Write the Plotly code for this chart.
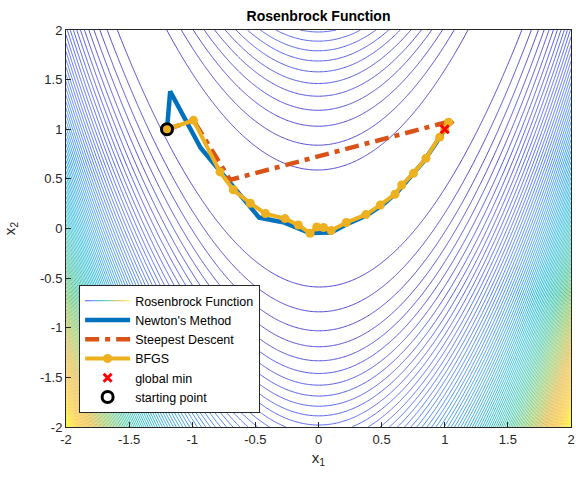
import numpy as np
import plotly.graph_objects as go

# Grid for the Rosenbrock surface f(x1,x2) = 100(x2 - x1^2)^2 + (1 - x1)^2
grid_x = np.linspace(-2, 2, 401)
grid_y = np.linspace(-2, 2, 401)
GX, GY = np.meshgrid(grid_x, grid_y)
Z = 100 * (GY - GX**2) ** 2 + (1 - GX) ** 2

n_levels = 100
level_size = Z.max() / (n_levels + 1)

# Paths
newton_x = [-1.2, -1.175, -0.933, -0.783, -0.47, -0.27, -0.07, 0.10, 0.22, 0.38, 0.51, 0.62, 0.72, 0.83, 0.93, 1.0]
newton_y = [1.0, 1.381, 0.811, 0.589, 0.11, 0.06, -0.045, -0.04, 0.04, 0.13, 0.24, 0.36, 0.50, 0.67, 0.86, 1.0]

sd_x = [-1.2, -0.99, -0.70, 1.07, 1.0]
sd_y = [1.0, 1.09, 0.49, 1.09, 1.0]

bfgs_x = [-1.2, -0.99, -0.78, -0.675, -0.54, -0.42, -0.265, -0.16, -0.067, -0.014, 0.04, 0.10, 0.22, 0.375, 0.49, 0.606, 0.659, 0.752, 0.851, 0.96, 1.03, 1.0]
bfgs_y = [1.0, 1.09, 0.57, 0.39, 0.254, 0.15, 0.10, 0.035, -0.048, 0.015, 0.01, -0.02, 0.06, 0.14, 0.237, 0.345, 0.438, 0.556, 0.707, 0.92, 1.07, 1.0]

min_x = [1.0]
min_y = [1.0]
start_x = [-1.2]
start_y = [1.0]

x_ticks = [-2, -1.5, -1, -0.5, 0, 0.5, 1, 1.5, 2]
y_ticks = [-2, -1.5, -1, -0.5, 0, 0.5, 1, 1.5, 2]

parula = [
    [0.0, "#3b2fc8"], [0.125, "#4760f5"], [0.25, "#2793ea"], [0.375, "#0db2d2"],
    [0.5, "#35c1a0"], [0.625, "#8dc55a"], [0.75, "#e2b63a"], [0.875, "#fcc93a"],
    [1.0, "#f9fb15"],
]

fig = go.Figure()
fig.add_trace(go.Contour(
    x=grid_x, y=grid_y, z=Z,
    colorscale=parula, showscale=False,
    contours=dict(coloring="lines", start=level_size, end=Z.max(), size=level_size),
    line=dict(width=0.9),
    name="Rosenbrock Function", showlegend=True, hoverinfo="skip",
))
fig.add_trace(go.Scatter(x=newton_x, y=newton_y, mode="lines", name="Newton's Method",
                         line=dict(color="#0072BD", width=4.5)))
fig.add_trace(go.Scatter(x=sd_x, y=sd_y, mode="lines", name="Steepest Descent",
                         line=dict(color="#D95319", width=4.5, dash="14px,6px,5px,6px")))
fig.add_trace(go.Scatter(x=bfgs_x, y=bfgs_y, mode="lines+markers", name="BFGS",
                         line=dict(color="#EDB120", width=4),
                         marker=dict(color="#EDB120", size=9, symbol="circle")))
fig.add_trace(go.Scatter(x=min_x, y=min_y, mode="markers", name="global min",
                         marker=dict(symbol="x-thin", size=8, color="red",
                                     line=dict(color="red", width=3))))
fig.add_trace(go.Scatter(x=start_x, y=start_y, mode="markers", name="starting point",
                         marker=dict(symbol="circle-open", size=11, color="black",
                                     line=dict(color="black", width=3))))

axis_common = dict(
    showgrid=False, zeroline=False, ticks="inside", ticklen=5, tickcolor="#262626",
    showline=True, linecolor="#262626", linewidth=1, mirror=True, automargin=False,
    tickfont=dict(size=13, color="#262626"), ticklabeloverflow="allow",
)
fig.update_layout(
    width=576, height=481,
    margin=dict(l=66, r=5, t=30, b=54, autoexpand=False),
    paper_bgcolor="white", plot_bgcolor="white",
    font=dict(family="Liberation Sans, Arial, sans-serif", color="#262626"),
    title=dict(text="<b>Rosenbrock Function</b>", xref="paper", x=0.5, xanchor="center",
               yref="container", y=0.967, yanchor="middle",
               font=dict(size=14, color="black"), automargin=False),
    xaxis=dict(range=[-2, 2], tickvals=x_ticks, ticktext=[str(v) for v in x_ticks],
               title=dict(text="x<sub>1</sub>", font=dict(size=15), standoff=6), **axis_common),
    yaxis=dict(range=[-2, 2], tickvals=y_ticks, ticktext=[str(v) for v in y_ticks],
               title=dict(text="x<sub>2</sub>", font=dict(size=15), standoff=20), **axis_common),
    legend=dict(x=0.026, y=0.035, xanchor="left", yanchor="bottom",
                bgcolor="white", bordercolor="#262626", borderwidth=1,
                font=dict(size=12.5, color="black"), itemwidth=45, tracegroupgap=0),
)

post = (
    "document.body.style.margin='0';"
    "document.body.style.overflow='hidden';"
    "var gd=document.getElementById('{plot_id}');"
    "Plotly.relayout(gd, {'xaxis.ticklabeloverflow':'allow'});"
)
fig.write_html("out.html", post_script=post, config={"displayModeBar": False})
